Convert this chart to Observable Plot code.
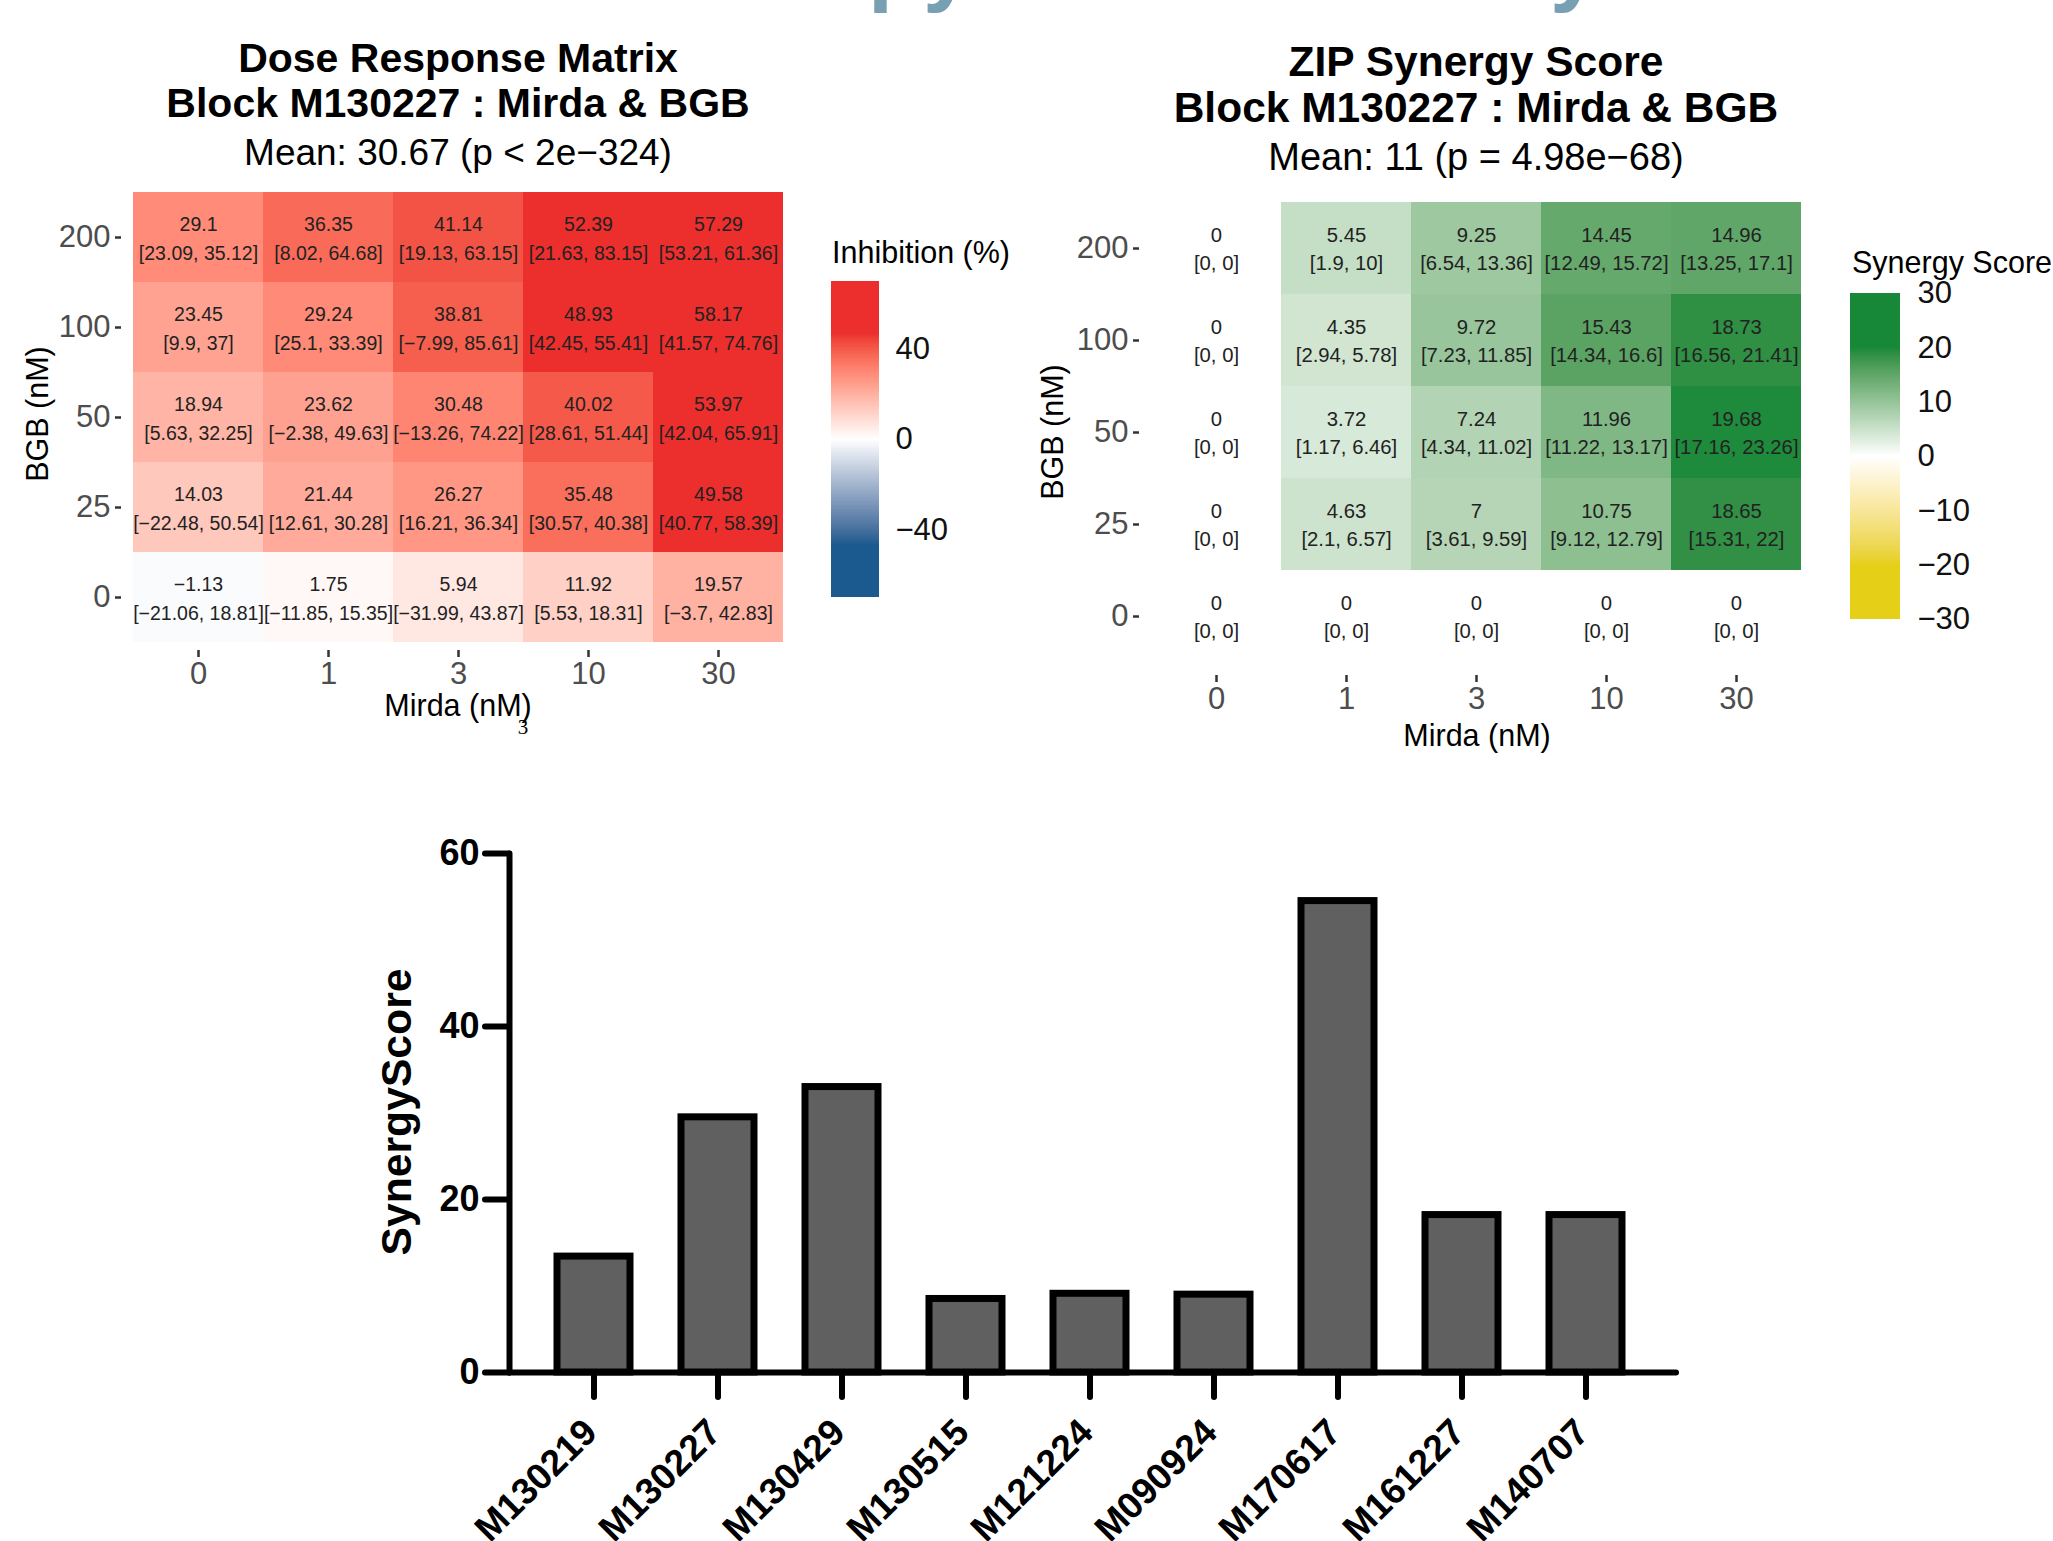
<!DOCTYPE html>
<html><head><meta charset="utf-8">
<script src="https://cdn.jsdelivr.net/npm/d3@7"></script>
<script src="https://cdn.jsdelivr.net/npm/@observablehq/plot@0.6"></script>
<style>
html,body{margin:0;padding:0;background:#fff;}
body{width:2053px;height:1541px;position:relative;overflow:hidden;font-family:"Liberation Sans",Arial,sans-serif;color:#000;}
.abs{position:absolute;white-space:nowrap;line-height:1;}
.ctr{transform:translate(-50%,-50%);}
.rot{transform:translate(-50%,-50%) rotate(-90deg);}
.ttl{font-weight:bold;}
.frag{position:absolute;white-space:nowrap;line-height:1;color:#77A0B2;font-weight:bold;font-size:90px;}
.plotbox{position:absolute;}
</style></head><body>
<script>
// ---------- data ----------
const mirdaDoses = ["0", "1", "3", "10", "30"];
const bgbDoses = ["0", "25", "50", "100", "200"];
// rows: BGB 0,25,50,100,200 ; columns: Mirda 0,1,3,10,30
const inhibition = [
  [-1.13, 1.75, 5.94, 11.92, 19.57],
  [14.03, 21.44, 26.27, 35.48, 49.58],
  [18.94, 23.62, 30.48, 40.02, 53.97],
  [23.45, 29.24, 38.81, 48.93, 58.17],
  [29.1, 36.35, 41.14, 52.39, 57.29]
];
const inhibitionCI = [
  ["[−21.06, 18.81]", "[−11.85, 15.35]", "[−31.99, 43.87]", "[5.53, 18.31]", "[−3.7, 42.83]"],
  ["[−22.48, 50.54]", "[12.61, 30.28]", "[16.21, 36.34]", "[30.57, 40.38]", "[40.77, 58.39]"],
  ["[5.63, 32.25]", "[−2.38, 49.63]", "[−13.26, 74.22]", "[28.61, 51.44]", "[42.04, 65.91]"],
  ["[9.9, 37]", "[25.1, 33.39]", "[−7.99, 85.61]", "[42.45, 55.41]", "[41.57, 74.76]"],
  ["[23.09, 35.12]", "[8.02, 64.68]", "[19.13, 63.15]", "[21.63, 83.15]", "[53.21, 61.36]"]
];
const synergy = [
  [0, 0, 0, 0, 0],
  [0, 4.63, 7, 10.75, 18.65],
  [0, 3.72, 7.24, 11.96, 19.68],
  [0, 4.35, 9.72, 15.43, 18.73],
  [0, 5.45, 9.25, 14.45, 14.96]
];
const synergyCI = [
  ["[0, 0]", "[0, 0]", "[0, 0]", "[0, 0]", "[0, 0]"],
  ["[0, 0]", "[2.1, 6.57]", "[3.61, 9.59]", "[9.12, 12.79]", "[15.31, 22]"],
  ["[0, 0]", "[1.17, 6.46]", "[4.34, 11.02]", "[11.22, 13.17]", "[17.16, 23.26]"],
  ["[0, 0]", "[2.94, 5.78]", "[7.23, 11.85]", "[14.34, 16.6]", "[16.56, 21.41]"],
  ["[0, 0]", "[1.9, 10]", "[6.54, 13.36]", "[12.49, 15.72]", "[13.25, 17.1]"]
];
const inhibitionTicks = [-40, 0, 40];
const synergyTicks = [-30, -20, -10, 0, 10, 20, 30];
const blocks = ["M130219", "M130227", "M130429", "M130515", "M121224", "M090924", "M170617", "M161227", "M140707"];
const blockScores = [13.4, 29.5, 33.0, 8.5, 9.1, 9.0, 54.5, 18.2, 18.2];
const barTicks = [0, 20, 40, 60];
</script>

<div class="frag" style="left:868px;top:-82px;">py</div>
<div class="frag" style="left:1550px;top:-82px;">y</div>

<div class="abs ctr ttl" style="left:458px;top:58px;font-size:41px;">Dose Response Matrix</div>
<div class="abs ctr ttl" style="left:458px;top:103px;font-size:41px;">Block M130227 : Mirda &amp; BGB</div>
<div class="abs ctr" style="left:458px;top:152px;font-size:37px;">Mean: 30.67 (p &lt; 2e−324)</div>

<div class="abs ctr ttl" style="left:1476px;top:62px;font-size:42.5px;">ZIP Synergy Score</div>
<div class="abs ctr ttl" style="left:1476px;top:108px;font-size:42.5px;">Block M130227 : Mirda &amp; BGB</div>
<div class="abs ctr" style="left:1476px;top:157px;font-size:38px;">Mean: 11 (p = 4.98e−68)</div>

<div id="p1" class="plotbox" style="left:0px;top:160px;"></div>
<div id="l1" class="plotbox" style="left:820px;top:240px;"></div>
<div id="p2" class="plotbox" style="left:1040px;top:170px;"></div>
<div id="l2" class="plotbox" style="left:1840px;top:250px;"></div>
<div id="p3" class="plotbox" style="left:0px;top:820px;"></div>

<div class="abs rot" style="left:37px;top:414px;font-size:30.5px;">BGB (nM)</div>
<div class="abs ctr" style="left:458px;top:705px;font-size:30.5px;">Mirda (nM)</div>
<div class="abs ctr" style="left:523px;top:727px;font-size:21px;font-family:'Liberation Serif',serif;">3</div>
<div class="abs rot" style="left:1052px;top:432px;font-size:30.5px;">BGB (nM)</div>
<div class="abs ctr" style="left:1477px;top:735px;font-size:30.5px;">Mirda (nM)</div>
<div class="abs" style="left:832px;top:237px;font-size:30.5px;">Inhibition (%)</div>
<div class="abs" style="left:1852px;top:247px;font-size:30.5px;">Synergy Score</div>
<div class="abs rot ttl" style="left:396px;top:1112px;font-size:42.7px;">SynergyScore</div>

<script>
const FONT = "'Liberation Sans', Arial, sans-serif";
const fmt = v => String(v).replace("-", "−");

function table(values, cis) {
  const out = [];
  bgbDoses.forEach((b, i) => mirdaDoses.forEach((m, j) => out.push({bgb: b, mirda: m, value: values[i][j], ci: cis[i][j]})));
  return out;
}
const inhData = table(inhibition, inhibitionCI);
const synData = table(synergy, synergyCI);

const inhColor = {type: "linear", domain: [-70, -47, 0, 47, 70],
  range: ["#1A5A8E", "#1A5A8E", "#FFFFFF", "#EC2E2D", "#EC2E2D"], interpolate: "lab", clamp: true};
const synColor = {type: "linear", domain: [-30, -20, 0, 20, 30],
  range: ["#E6CF17", "#E6CF17", "#FFFFFF", "#178838", "#178838"], interpolate: "lab", clamp: true};

function heatmap(data, color, o) {
  return Plot.plot({
    width: o.width, height: o.height,
    marginLeft: o.ml, marginRight: o.mr, marginTop: o.mt, marginBottom: o.mb,
    insetLeft: o.il, insetBottom: o.ib,
    style: {fontFamily: FONT, background: "transparent", overflow: "visible"},
    x: {type: "band", domain: mirdaDoses, padding: 0, label: null},
    y: {type: "band", domain: bgbDoses.slice().reverse(), padding: 0, label: null},
    color,
    marks: [
      Plot.cell(data, {x: "mirda", y: "bgb", fill: "value"}),
      Plot.text(data, {x: "mirda", y: "bgb", text: d => fmt(d.value), dy: o.dy1, fontSize: o.fs, fill: "#222"}),
      Plot.text(data, {x: "mirda", y: "bgb", text: "ci", dy: o.dy2, fontSize: o.fs, fill: "#222"}),
      Plot.axisX({tickSize: 7, tickPadding: 4, fontSize: 31, fill: "#4D4D4D", stroke: "#333", strokeWidth: 2.5, label: null}),
      Plot.axisY({tickSize: 6, tickPadding: 5, fontSize: 31, fill: "#4D4D4D", stroke: "#333", strokeWidth: 2.5, label: null})
    ]
  });
}

document.getElementById("p1").append(heatmap(inhData, inhColor,
  {width: 820, height: 600, ml: 121, mr: 37, mt: 31, mb: 110, il: 11, ib: 8, dy1: -13, dy2: 16, fs: 19.5}));
document.getElementById("p2").append(heatmap(synData, synColor,
  {width: 800, height: 600, ml: 99, mr: 39, mt: 30, mb: 95, il: 12, ib: 11, dy1: -13, dy2: 15, fs: 20.3}));

function colorbar(color, lo, hi, ticks, o) {
  const step = (hi - lo) / 400;
  const steps = d3.range(lo, hi, step);
  return Plot.plot({
    width: o.width, height: o.height,
    marginLeft: o.ml, marginRight: o.mr, marginTop: o.mt, marginBottom: o.mb,
    style: {fontFamily: FONT, background: "transparent", overflow: "visible"},
    x: {domain: [0, 1], axis: null},
    y: {domain: [lo, hi], axis: null},
    color,
    marks: [
      Plot.rect(steps, {x1: 0, x2: 1, y1: d => d, y2: d => Math.min(hi, d + step * 1.6), fill: d => d + step / 2, shapeRendering: "crispEdges"}),
      Plot.axisY({anchor: "right", ticks, tickSize: 0, tickPadding: o.pad, fontSize: 31, fill: "#111", label: null})
    ]
  });
}
document.getElementById("l1").append(colorbar(inhColor, -70, 70, inhibitionTicks,
  {width: 200, height: 380, ml: 11, mr: 141, mt: 41, mb: 23, pad: 16}));
document.getElementById("l2").append(colorbar(synColor, -30, 30, synergyTicks,
  {width: 213, height: 400, ml: 10, mr: 153, mt: 43, mb: 31, pad: 17}));

const barData = blocks.map((b, i) => ({block: b, score: blockScores[i]}));
document.getElementById("p3").append(Plot.plot({
  width: 2053, height: 721,
  marginLeft: 509, marginRight: 377, marginTop: 33, marginBottom: 169,
  style: {fontFamily: FONT, background: "transparent", overflow: "visible"},
  x: {type: "band", domain: blocks, paddingInner: 0.411, paddingOuter: 0.411, align: 0.475, label: null},
  y: {domain: [0, 60], label: null},
  marks: [
    Plot.barY(barData, {x: "block", y: "score", fill: "#606060", stroke: "#000", strokeWidth: 7}),
    Plot.ruleY([0], {stroke: "#000", strokeWidth: 6, strokeLinecap: "round"}),
    Plot.frame({anchor: "left", stroke: "#000", strokeWidth: 6, strokeLinecap: "round"}),
    Plot.axisY({ticks: barTicks, tickSize: 24, tickPadding: 6, fontSize: 36, fontWeight: "bold", stroke: "#000", fill: "#000", strokeWidth: 6, strokeLinecap: "round", label: null}),
    Plot.axisX({tickSize: 25, strokeWidth: 6, stroke: "#000", strokeLinecap: "round", tickFormat: () => "", label: null}),
    Plot.text(blocks, {x: d => d, frameAnchor: "bottom", rotate: -45, textAnchor: "end", lineAnchor: "bottom", dx: 5, dy: 62, fontSize: 37, fontWeight: "bold", fill: "#000"})
  ]
}));
</script>
</body></html>
